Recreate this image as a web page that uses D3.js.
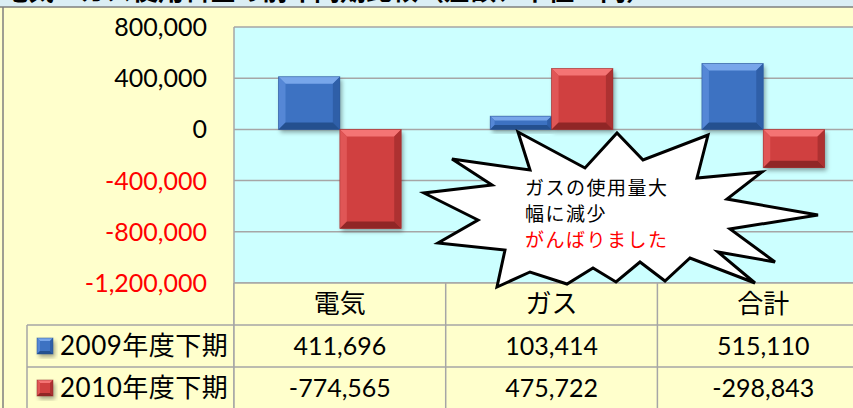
<!DOCTYPE html>
<html>
<head>
<meta charset="utf-8">
<script src="https://cdn.jsdelivr.net/npm/d3@7"></script>
<style>
  body { margin: 0; background: #ffffcc; overflow: hidden; }
  text { font-family: Lato, "Noto Sans CJK JP", sans-serif; }
</style>
</head>
<body>
<div id="container"></div>
<script>
let categories = ["電気", "ガス", "合計"];
let seriesNames = ["2009年度下期", "2010年度下期"];
let values2009 = [411696, 103414, 515110];
let values2010 = [-774565, 475722, -298843];
let yTicks = [800000, 400000, 0, -400000, -800000, -1200000];
let titleText = "電気・ガス使用料金の前年同期比較（差額、単位：円）";
let calloutLines = ["ガスの使用量大", "幅に減少", "がんばりました"];

let w = 853;
let h = 408;
let plotLeft = 234;
let plotTop = 27;
let plotBottom = 283;
let rowH = 42;

let viz = d3.select("#container")
  .append("svg")
    .attr("width", w)
    .attr("height", h)
;

// background
viz.append("rect").attr("x", 0).attr("y", 0).attr("width", w).attr("height", h).attr("fill", "#ffffcc");
viz.append("rect").attr("x", 0).attr("y", 0).attr("width", w).attr("height", 7).attr("fill", "#dbeef4");
// title: the reference only shows its lower edge
viz.append("text")
  .attr("x", 2).attr("y", 0)
  .style("font-size", "26px").style("font-weight", "bold")
  .style("font-family", "'Noto Sans CJK JP'")
  .text(titleText);
viz.append("line").attr("x1", 0).attr("x2", w).attr("y1", 7).attr("y2", 7)
  .attr("stroke", "#7f7f7f").attr("stroke-width", 1.5);
viz.append("line").attr("x1", 3).attr("x2", 3).attr("y1", 7).attr("y2", h)
  .attr("stroke", "#7f7f7f").attr("stroke-width", 1.5);

let xScale = d3.scaleBand().domain(categories).range([plotLeft, plotLeft + 3 * 211.7]);
let bw = xScale.bandwidth();
let x1 = d3.scaleBand().domain(seriesNames).range([44.5, bw - 44.5]);
let yScale = d3.scaleLinear().domain([-1200000, 800000]).range([plotBottom, plotTop]);

// plot area
viz.append("rect")
  .attr("x", plotLeft).attr("y", plotTop)
  .attr("width", w - plotLeft).attr("height", plotBottom - plotTop)
  .attr("fill", "#ccffff");

viz.append("g").selectAll("line").data(yTicks).join("line")
  .attr("x1", plotLeft).attr("x2", w)
  .attr("y1", d => yScale(d)).attr("y2", d => yScale(d))
  .attr("stroke", "#a6a6a6").attr("stroke-width", 1.5);
viz.append("line").attr("x1", plotLeft).attr("x2", plotLeft)
  .attr("y1", plotTop).attr("y2", h)
  .attr("stroke", "#a6a6a6").attr("stroke-width", 1.5);

// plain hyphen for negatives, like the spreadsheet
let fmt = d3.formatLocale({ decimal: ".", thousands: ",", grouping: [3], currency: ["", ""], minus: "-" }).format(",");
viz.append("g").selectAll("text").data(yTicks).join("text")
  .attr("x", 207)
  .attr("y", d => yScale(d))
  .attr("dy", "0.36em")
  .attr("text-anchor", "end")
  .style("font-size", "25px")
  .attr("fill", d => d < 0 ? "#ff0000" : "#000")
  .text(d => fmt(d));

// bars with bevel
let colors = {
  "2009年度下期": { face: "#3d72c2", light: "#78a6ea", side: "#5587d6", dark: "#24508f", rside: "#2f5fa8" },
  "2010年度下期": { face: "#d04141", light: "#f47474", side: "#e05656", dark: "#902626", rside: "#ad3131" }
};

let defs = viz.append("defs");
let shadow = defs.append("filter").attr("id", "shadow")
  .attr("x", "-20%").attr("y", "-20%").attr("width", "150%").attr("height", "150%");
shadow.append("feDropShadow").attr("dx", 2).attr("dy", 3).attr("stdDeviation", 2)
  .attr("flood-color", "#000").attr("flood-opacity", 0.35);

function bevelBar(g, x0, y0, bwid, bh, c, b) {
  let x1p = x0 + bwid, y1p = y0 + bh;
  g.append("rect").attr("x", x0).attr("y", y0).attr("width", bwid).attr("height", bh)
    .attr("fill", c.face).attr("filter", "url(#shadow)");
  let pts = (arr) => arr.map(p => p.join(",")).join(" ");
  g.append("polygon").attr("points", pts([[x0, y0], [x1p, y0], [x1p - b, y0 + b], [x0 + b, y0 + b]])).attr("fill", c.light);
  g.append("polygon").attr("points", pts([[x0, y0], [x0 + b, y0 + b], [x0 + b, y1p - b], [x0, y1p]])).attr("fill", c.side);
  g.append("polygon").attr("points", pts([[x1p, y0], [x1p, y1p], [x1p - b, y1p - b], [x1p - b, y0 + b]])).attr("fill", c.rside);
  g.append("polygon").attr("points", pts([[x0, y1p], [x0 + b, y1p - b], [x1p - b, y1p - b], [x1p, y1p]])).attr("fill", c.dark);
  g.append("rect").attr("x", x0).attr("y", y0).attr("width", bwid).attr("height", bh)
    .attr("fill", "none").attr("stroke", c.dark).attr("stroke-width", 0.8).attr("stroke-opacity", 0.6);
}

let barData = [];
categories.forEach(function(cat, i) {
  barData.push({ cat: cat, s: seriesNames[0], v: values2009[i] });
  barData.push({ cat: cat, s: seriesNames[1], v: values2010[i] });
});

let barG = viz.append("g");
barData.forEach(function(d) {
  let x0 = xScale(d.cat) + x1(d.s);
  let yTop = yScale(Math.max(0, d.v));
  let yBot = yScale(Math.min(0, d.v));
  let bh = yBot - yTop;
  bevelBar(barG, x0, yTop, x1.bandwidth(), bh, colors[d.s], Math.min(7, bh / 3));
});

// data table
let tableTop = plotBottom;
viz.append("rect").attr("x", plotLeft).attr("y", tableTop).attr("width", w - plotLeft).attr("height", h - tableTop)
  .attr("fill", "#ffffcc");
let tg = viz.append("g");
[tableTop, tableTop + rowH, tableTop + 2 * rowH].forEach(function(y, i) {
  tg.append("line")
    .attr("x1", i === 0 ? plotLeft : 27).attr("x2", w)
    .attr("y1", y).attr("y2", y)
    .attr("stroke", "#a6a6a6").attr("stroke-width", 1.5);
});
tg.append("line").attr("x1", 27).attr("x2", 27).attr("y1", tableTop + rowH).attr("y2", h)
  .attr("stroke", "#a6a6a6").attr("stroke-width", 1.5);
tg.append("line").attr("x1", plotLeft).attr("x2", plotLeft).attr("y1", tableTop).attr("y2", h)
  .attr("stroke", "#a6a6a6").attr("stroke-width", 1.5);
categories.slice(1).forEach(function(cat) {
  tg.append("line").attr("x1", xScale(cat)).attr("x2", xScale(cat)).attr("y1", tableTop).attr("y2", h)
    .attr("stroke", "#a6a6a6").attr("stroke-width", 1.5);
});

tg.selectAll("text.cat").data(categories).join("text")
  .attr("class", "cat")
  .attr("x", d => xScale(d) + bw / 2)
  .attr("y", tableTop + rowH / 2)
  .attr("dy", "0.36em")
  .attr("text-anchor", "middle")
  .style("font-size", "26px")
  .style("font-family", "'Noto Sans CJK JP'")
  .text(d => d);

[values2009, values2010].forEach(function(vals, r) {
  tg.selectAll("text.v" + r).data(vals).join("text")
    .attr("class", "v" + r)
    .attr("x", (d, i) => xScale(categories[i]) + bw / 2)
    .attr("y", tableTop + rowH * (r + 1.5))
    .attr("dy", "0.36em")
    .attr("text-anchor", "middle")
    .style("font-size", "25px")
    .text(d => fmt(d));
});

// legend keys in the table
seriesNames.forEach(function(s, r) {
  let cy = tableTop + rowH * (r + 1.5);
  bevelBar(tg, 37, cy - 8, 16, 16, colors[s], 3);
  tg.append("text")
    .attr("x", 60).attr("y", cy).attr("dy", "0.36em")
    .style("font-size", "26px")
    .style("letter-spacing", "0.5px")
    .text(s);
});

// callout burst
let burst = [
  [518,132],[585,168],[617,133],[643,160],[708,135],[697,178],[762,172],[727,199],
  [818,215],[730,229],[775,262],[718,252],[755,283],[690,258],[665,281],[640,262],
  [616,282],[593,268],[567,284],[530,272],[497,287],[505,250],[438,243],[478,220],
  [424,193],[492,185],[452,159],[530,170]
];
viz.append("polygon")
  .attr("points", burst.map(p => p.join(",")).join(" "))
  .attr("fill", "#fff").attr("stroke", "#000").attr("stroke-width", 3)
  .attr("stroke-linejoin", "miter");

viz.append("g").selectAll("text").data(calloutLines).join("text")
  .attr("x", 525)
  .attr("y", (d, i) => 195 + i * 26)
  .style("font-size", "19px")
  .style("letter-spacing", "1.5px")
  .style("font-family", "'Noto Sans CJK JP'")
  .attr("fill", (d, i) => i === 2 ? "#ff0000" : "#000")
  .text(d => d);
</script>
</body>
</html>
